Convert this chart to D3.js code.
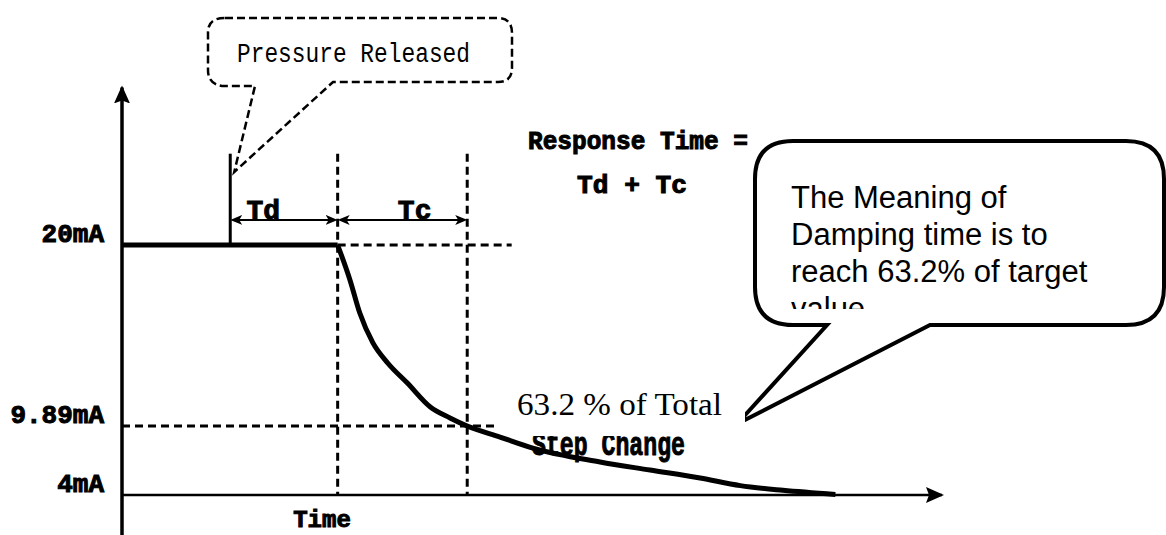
<!DOCTYPE html>
<html><head><meta charset="utf-8">
<script src="https://cdn.jsdelivr.net/npm/d3@7"></script>
<style>html,body{margin:0;padding:0;background:#fff;}svg{display:block;}</style>
</head><body>
<svg id="chart" width="1166" height="535"></svg>
<script>
// ---- data ----
const levelTicks = [4, 9.89, 20];                 // mA levels marked on the y axis
const levelLabels = ["4mA", "9.89mA", "20mA"];
const eventNames = ["Pressure released", "Td end", "Tc end"];
const eventTimes = [13.2, 26.3, 42.1];             // arbitrary time units
const holdTimes = [0, 26.3];                        // 20mA plateau
const holdValues = [20, 20];
const curveTimes  = [26.3, 27.8, 29.0, 30.6, 32.4, 34.8, 37.6, 40.0, 42.1, 46.1, 50.1, 58.3, 64.4, 70.5, 75.4, 80.6, 87.0];
const curveValues = [20, 18.05, 16.2, 14.53, 13.41, 12.29, 10.95, 10.34, 9.89, 8.95, 8.01, 6.82, 6.13, 5.45, 4.8, 4.4, 4.05];
const timeMax = 100;
const axisTopLevel = 28.8;
const markerTopLevel = 25.1;
const arrowLevel = 21.4;

const W = 1166, H = 535;
const svg = d3.select("#chart");
const x = d3.scaleLinear().domain([0, timeMax]).range([122, 942]);
const y = d3.scaleLinear().domain([4, 9.89, 20]).range([495, 426, 245]);

const defs = svg.append("defs");
function marker(id, path) {
  defs.append("marker").attr("id", id).attr("markerUnits", "userSpaceOnUse")
    .attr("viewBox", "0 0 12 12").attr("refX", 6).attr("refY", 6)
    .attr("markerWidth", 12).attr("markerHeight", 12).attr("orient", "auto")
    .append("path").attr("d", path).attr("fill", "#000");
}
marker("arrEnd", "M0,1 L12,6 L0,11 L3,6 Z");
marker("arrStart", "M12,1 L0,6 L12,11 L9,6 Z");
defs.append("marker").attr("id", "axArr").attr("markerUnits", "userSpaceOnUse")
  .attr("viewBox", "0 0 18 18").attr("refX", 16).attr("refY", 9)
  .attr("markerWidth", 18).attr("markerHeight", 18).attr("orient", "auto")
  .append("path").attr("d", "M0,1 L18,9 L0,17 L3,9 Z").attr("fill", "#000");

const g = svg.append("g");
const pix = "'Liberation Mono', 'DejaVu Sans Mono', monospace";

// dashed guides
const dash = {stroke: "#000", "stroke-width": 3, "stroke-dasharray": "8,5", fill: "none"};
function applyAttrs(sel, a){ for (const k in a) sel.attr(k, a[k]); return sel; }
[1, 2].forEach(i => {
  applyAttrs(g.append("line"), dash)
    .attr("x1", x(eventTimes[i])).attr("x2", x(eventTimes[i]))
    .attr("y1", y(markerTopLevel)).attr("y2", y(4));
});
applyAttrs(g.append("line"), dash)
  .attr("x1", x(eventTimes[1])).attr("x2", x(eventTimes[1]) + 174)
  .attr("y1", y(20)).attr("y2", y(20));
applyAttrs(g.append("line"), dash)
  .attr("x1", x(0)).attr("x2", x(eventTimes[2]) + 31)
  .attr("y1", y(9.89)).attr("y2", y(9.89));

// axes
g.append("line").attr("x1", x(0)).attr("x2", x(timeMax)).attr("y1", y(4)).attr("y2", y(4))
  .attr("stroke", "#000").attr("stroke-width", 2.5).attr("marker-end", "url(#axArr)");
g.append("line").attr("x1", x(0)).attr("x2", x(0)).attr("y1", H + 5).attr("y2", y(axisTopLevel))
  .attr("stroke", "#000").attr("stroke-width", 3.5).attr("marker-end", "url(#axArr)");

const big = s => s.attr("font-family", pix).attr("font-weight", "bold").attr("stroke", "#000").attr("stroke-width", 1);

// y level labels
big(g.selectAll("text.lvl").data(levelTicks).join("text").attr("class", "lvl"))
  .attr("x", 104).attr("y", d => y(d) - 3).attr("text-anchor", "end").attr("font-size", 26)
  .text((d, i) => levelLabels[i]);

// 20mA plateau
const line = d3.line().x(d => x(d[0])).y(d => y(d[1]));
g.append("path").datum(d3.zip(holdTimes, holdValues)).attr("d", line)
  .attr("stroke", "#000").attr("stroke-width", 5).attr("fill", "none");

// pressure release marker
g.append("line").attr("x1", x(eventTimes[0])).attr("x2", x(eventTimes[0]))
  .attr("y1", y(markerTopLevel)).attr("y2", y(20))
  .attr("stroke", "#000").attr("stroke-width", 3);

// Td / Tc arrows
g.append("line").attr("x1", x(eventTimes[0]) + 6).attr("x2", x(eventTimes[1]) - 6)
  .attr("y1", y(arrowLevel)).attr("y2", y(arrowLevel)).attr("stroke", "#000").attr("stroke-width", 2)
  .attr("marker-start", "url(#arrStart)").attr("marker-end", "url(#arrEnd)");
g.append("line").attr("x1", x(eventTimes[1]) + 6).attr("x2", x(eventTimes[2]) - 6)
  .attr("y1", y(arrowLevel)).attr("y2", y(arrowLevel)).attr("stroke", "#000").attr("stroke-width", 2)
  .attr("marker-start", "url(#arrStart)").attr("marker-end", "url(#arrEnd)");
big(g.append("text")).attr("x", x(eventTimes[0]) + 33).attr("y", y(arrowLevel) - 1).attr("text-anchor", "middle").attr("font-size", 28).text("Td");
big(g.append("text")).attr("x", x(eventTimes[1]) + 77).attr("y", y(arrowLevel) - 1).attr("text-anchor", "middle").attr("font-size", 28).text("Tc");

// Response time text
big(g.append("text")).attr("x", 528).attr("y", 149).attr("font-size", 25)
  .attr("textLength", 220).attr("lengthAdjust", "spacingAndGlyphs").text("Response Time =");
big(g.append("text")).attr("x", 577).attr("y", 193).attr("font-size", 25)
  .attr("textLength", 110).attr("lengthAdjust", "spacingAndGlyphs").text("Td + Tc");

// Time label
big(g.append("text")).attr("x", 322).attr("y", 527).attr("text-anchor", "middle").attr("font-size", 24).text("Time");

// Pressure Released callout
const cx = x(eventTimes[0]);
g.append("path")
  .attr("d", `M225,18 H497 Q512,18 512,33 V68 Q512,82 498,82 H333 L${cx + 4},172 L255,86 H222 Q208,84 208,70 V32 Q208,18 225,18 Z`)
  .attr("fill", "none").attr("stroke", "#000").attr("stroke-width", 2.5).attr("stroke-dasharray", "8,4");
g.append("text").attr("x", 237).attr("y", 62).attr("font-family", pix).attr("font-size", 27)
  .attr("textLength", 233).attr("lengthAdjust", "spacingAndGlyphs").text("Pressure Released");

// Step Change (partly hidden by the white label box)
big(g.append("text")).attr("x", 532).attr("y", 455).attr("font-size", 34)
  .attr("textLength", 153).attr("lengthAdjust", "spacingAndGlyphs").text("Step Change");

// speech bubble
const L = 755, T = 141, R = 1164, B = 325, r = 38;
g.append("path")
  .attr("d", `M${L + r},${T} H${R - r} Q${R},${T} ${R},${T + r} V${B - r} Q${R},${B} ${R - r},${B} H930 L737,424 L827,${B} H${L + r} Q${L},${B} ${L},${B - r} V${T + r} Q${L},${T} ${L + r},${T} Z`)
  .attr("fill", "#fff").attr("stroke", "#000").attr("stroke-width", 4).attr("stroke-linejoin", "miter");
defs.append("clipPath").attr("id", "bubClip").append("rect").attr("x", L).attr("y", T).attr("width", R - L).attr("height", 309 - T);
const bubLines = ["The Meaning of", "Damping time is to", "reach 63.2% of target", "value"];
g.append("g").attr("clip-path", "url(#bubClip)").selectAll("text").data(bubLines).join("text")
  .attr("x", 791).attr("y", (d, i) => 208 + i * 37)
  .attr("font-family", "'Liberation Sans', Arial, sans-serif").attr("font-size", 31).text(d => d);

// white label box
g.append("rect").attr("x", 497).attr("y", 390).attr("width", 248).attr("height", 46).attr("fill", "#fff");
g.append("text").attr("x", 517).attr("y", 415).attr("font-family", "'Liberation Serif', 'DejaVu Serif', serif")
  .attr("font-size", 31).attr("textLength", 205).attr("lengthAdjust", "spacingAndGlyphs").text("63.2 % of Total");

// decay curve (drawn above the label box)
g.append("path").datum(d3.zip(curveTimes, curveValues))
  .attr("d", line.curve(d3.curveMonotoneX))
  .attr("stroke", "#000").attr("stroke-width", 5).attr("fill", "none").attr("stroke-linejoin", "round");
</script>
</body></html>
